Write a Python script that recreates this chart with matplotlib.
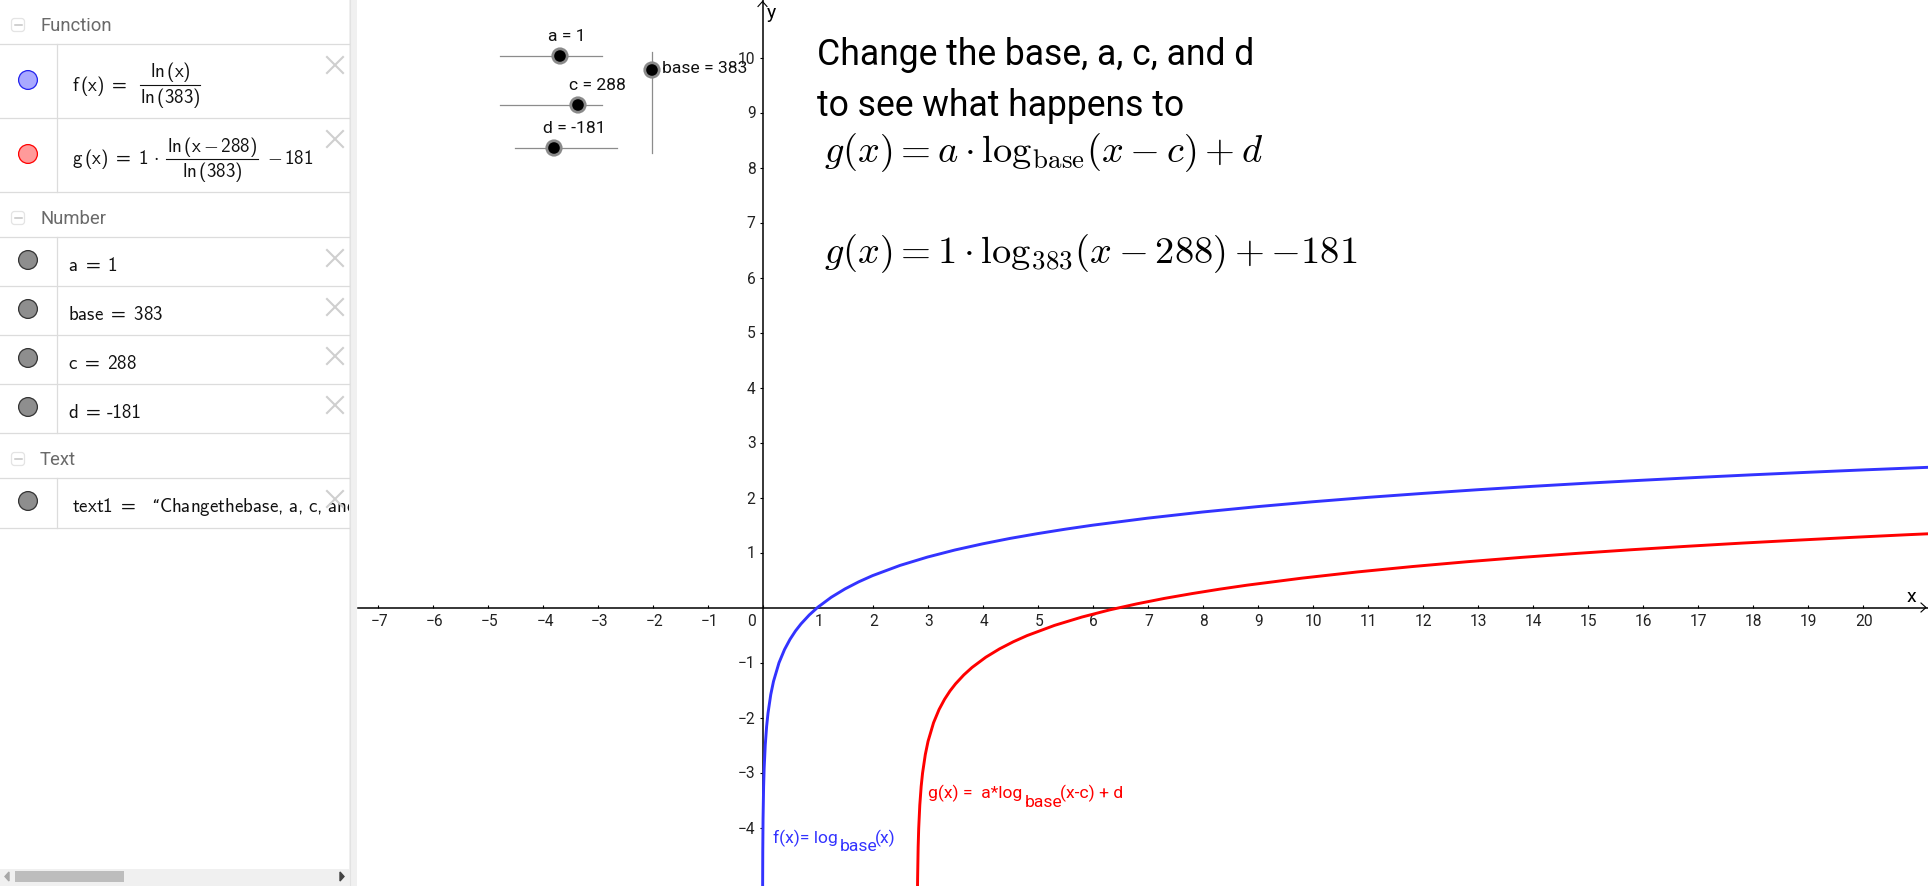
import matplotlib
matplotlib.use("Agg")
import matplotlib.pyplot as plt
from matplotlib.patches import Circle, Rectangle, FancyBboxPatch
from matplotlib.transforms import ScaledTranslation

plt.rcParams["mathtext.rm"] = "cmss10"
plt.rcParams["mathtext.sf"] = "cmss10"
plt.rcParams["mathtext.it"] = "cmss10"
plt.rcParams["mathtext.fallback"] = "cm"

# ---- data ----
f_x = [0.002, 0.005, 0.01, 0.02, 0.03, 0.05, 0.075, 0.1, 0.15, 0.2, 0.3, 0.4, 0.5, 0.6, 0.7, 0.85, 1,
       1.25, 1.5, 1.75, 2, 2.5, 3, 3.5, 4, 4.5, 5, 5.5, 6, 7, 8, 9, 10, 11, 12, 13, 14, 15, 16, 17, 18, 19, 20, 21.3]
f_y = [-5.188, -4.423, -3.844, -3.265, -2.927, -2.501, -2.162, -1.922, -1.584, -1.343, -1.005, -0.765, -0.579, -0.426,
       -0.298, -0.136, 0, 0.186, 0.338, 0.467, 0.579, 0.765, 0.917, 1.046, 1.157, 1.256, 1.343, 1.423, 1.496, 1.624,
       1.736, 1.834, 1.922, 2.002, 2.074, 2.141, 2.203, 2.261, 2.314, 2.365, 2.413, 2.458, 2.501, 2.553]
g_x = [2.818, 2.82, 2.83, 2.84, 2.86, 2.885, 2.91, 2.96, 3.01, 3.11, 3.21, 3.31, 3.41, 3.51, 3.66, 3.81,
       4.06, 4.31, 4.56, 4.81, 5.31, 5.81, 6.31, 6.81, 7.31, 7.81, 8.31, 8.81, 9.81, 10.81, 11.81, 12.81, 13.81,
       14.81, 15.81, 16.81, 17.81, 18.81, 19.81, 20.81, 21.3]
g_y = [-5.12, -4.934, -4.355, -4.017, -3.591, -3.252, -3.012, -2.674, -2.433, -2.095, -1.855, -1.669, -1.516, -1.388,
       -1.226, -1.09, -0.904, -0.752, -0.623, -0.511, -0.325, -0.173, -0.044, 0.067, 0.166, 0.253, 0.333, 0.406,
       0.534, 0.646, 0.744, 0.832, 0.912, 0.984, 1.051, 1.113, 1.171, 1.224, 1.275, 1.323, 1.345]
x_ticks = [-7, -6, -5, -4, -3, -2, -1, 0, 1, 2, 3, 4, 5, 6, 7, 8, 9, 10, 11, 12, 13, 14, 15, 16, 17, 18, 19, 20]
y_ticks = [-4, -3, -2, -1, 1, 2, 3, 4, 5, 6, 7, 8, 9, 10]
title_lines = ["Change the base, a, c, and d", "to see what happens to"]
formula_general = r"$g(x)=a\cdot\mathrm{log}_{\mathrm{base}}(x-c)+d$"
formula_values = r"$g(x)=1\cdot\mathrm{log}_{383}(x-288)+{-}181$"
section_names = ["Function", "Number", "Text"]
slider_labels = ["a = 1", "c = 288", "d = -181", "base = 383"]
number_rows = [r"a\ =\ 1", r"base\ =\ 383", r"c\ =\ 288", r"d\ =\ \!\text{-}181"]

# ---- layout (pixels) ----
W, H = 1928, 886
PANEL_W = 349
PLOT_L = 358
X0, Y0, UNIT = 762.5, 607.5, 55.0

BLUE = "#3333ff"
RED = "#ff0000"
LINE = "#dcdcdc"
TICK = "#222222"
LABEL_SIZE = 12.6
TICK_SIZE = 11.2

fig = plt.figure(figsize=(W / 100, H / 100), dpi=100, facecolor="white")

# ---- graph ----
ax = fig.add_axes([PLOT_L / W, 0, (W - PLOT_L) / W, 1])
ax.set_xlim((PLOT_L - X0) / UNIT, (W - X0) / UNIT)
ax.set_ylim((Y0 - H) / UNIT, Y0 / UNIT)
ax.patch.set_alpha(0)
for s in ("top", "right"):
    ax.spines[s].set_visible(False)
for s in ("left", "bottom"):
    ax.spines[s].set_position(("data", 0))
    ax.spines[s].set_linewidth(1.1)
    ax.spines[s].set_color("black")

ax.plot(f_x, f_y, color=BLUE, lw=2.1, solid_joinstyle="round", zorder=3)
ax.plot(g_x, g_y, color=RED, lw=2.1, solid_joinstyle="round", zorder=3)

ax.set_xticks(x_ticks)
ax.set_xticklabels(["" if v == 0 else str(v).replace("-", "\u2212") for v in x_ticks],
                   fontfamily="Roboto", fontsize=TICK_SIZE, color=TICK)
ax.set_yticks(y_ticks)
ax.set_yticklabels([str(v).replace("-", "\u2212") for v in y_ticks],
                   fontfamily="Roboto", fontsize=TICK_SIZE, color=TICK)
ax.tick_params(axis="x", direction="in", length=2, width=0.8, pad=4.5)
ax.tick_params(axis="y", direction="out", length=2, width=0.8, pad=3)
for v, lab in zip(x_ticks, ax.get_xticklabels()):
    dx = 2.5 if v < 0 else 1.2
    lab.set_transform(lab.get_transform() + ScaledTranslation(dx / 100, 0, fig.dpi_scale_trans))

# ---- pixel overlay ----
ui = fig.add_axes([0, 0, 1, 1], zorder=5)
ui.set_xlim(0, W)
ui.set_ylim(H, 0)
ui.axis("off")
ui.patch.set_alpha(0)


def ptext(x, y, s, size=12.5, color="black", family="Roboto", ha="left", **kw):
    return ui.text(x, y, s, fontsize=size, color=color, fontfamily=family, ha=ha, va="baseline", **kw)


def mtext(x, y, s, size=13.7, ha="left", **kw):
    return ui.text(x, y, "$\\mathsf{" + s + "}$", fontsize=size, color="#111111", math_fontfamily="custom",
                   ha=ha, va="baseline", **kw)


# axis arrows + axis names
ui.plot([1921, 1926, 1921], [Y0 - 4.5, Y0, Y0 + 4.5], color="black", lw=0.8)
ui.plot([X0 - 4.5, X0, X0 + 4.5], [6.5, 1.5, 6.5], color="black", lw=0.8)
ptext(1907, 602.5, "x", size=14)
ptext(767, 18, "y", size=14)
ptext(752, 625.5, "0", size=TICK_SIZE, color=TICK, ha="center")

# graph annotations
ptext(773, 843, "f(x)= log", size=LABEL_SIZE, color=BLUE)
ptext(839.5, 851, "base", size=LABEL_SIZE, color=BLUE)
ptext(874.5, 843, "(x)", size=LABEL_SIZE, color=BLUE)
ptext(928, 798, "g(x) =  a*log", size=LABEL_SIZE, color=RED)
ptext(1025, 807, "base", size=LABEL_SIZE, color=RED)
ptext(1059.5, 798, "(x-c) + d", size=LABEL_SIZE, color=RED)

# heading + formulas
ptext(817, 65, title_lines[0], size=25.6)
ptext(817, 116, title_lines[1], size=25.6)
ui.text(824, 162, formula_general, fontsize=27.7, math_fontfamily="cm", va="baseline", ha="left", color="black")
ui.text(824, 263, formula_values, fontsize=27.7, math_fontfamily="cm", va="baseline", ha="left", color="black")

# sliders
for (x1, x2, y, kx, lx, ly, lab) in [
    (500, 602, 56, 560, 567, 41, slider_labels[0]),
    (500, 602, 105, 578, 597, 90, slider_labels[1]),
    (515, 617, 148, 554, 574, 133, slider_labels[2]),
]:
    ui.plot([x1, x2], [y, y], color="#8c8c8c", lw=0.9, zorder=2)
    ui.add_patch(Circle((kx, y), 8.6, fc="#8a8a8a", ec="none", zorder=3))
    ui.add_patch(Circle((kx, y), 5.8, fc="black", ec="none", zorder=4))
    ptext(lx, ly, lab, size=LABEL_SIZE, ha="center", color="#111111")
ui.plot([652, 652], [52, 153], color="#8c8c8c", lw=0.9, zorder=2)
ui.add_patch(Circle((652, 70), 8.6, fc="#8a8a8a", ec="none", zorder=3))
ui.add_patch(Circle((652, 70), 5.8, fc="black", ec="none", zorder=4))
ptext(662, 73, slider_labels[3], size=LABEL_SIZE, color="#111111")

# ---- algebra panel ----
ui.add_patch(Rectangle((PANEL_W, 0), 7.5, H, fc="#f0f0f0", ec="none", zorder=1))
ui.plot([PANEL_W + .5] * 2, [0, H], color="#e2e2e2", lw=0.8, zorder=1)
for y in (44, 118, 192, 237, 286, 335, 384, 433, 478, 528):
    ui.plot([0, PANEL_W], [y, y], color=LINE, lw=0.9, zorder=1)
for y1, y2 in ((44, 192), (237, 433), (478, 528)):
    ui.plot([57, 57], [y1, y2], color=LINE, lw=0.9, zorder=1)

# section headers
for name, base in zip(section_names, (31, 224, 465)):
    ptext(40, base, name, size=13.3, color="#6a6a6a")
    by = base - 6
    ui.add_patch(FancyBboxPatch((11.5, by - 6.5), 13, 13, boxstyle="round,pad=0,rounding_size=3",
                                fc="white", ec="#e4e4e4", lw=0.9))
    ui.plot([14.5, 21.5], [by, by], color="#c4c4c4", lw=1.1)

# marble circles
for y, fc, ec in [(80, "#a9a9ff", "#2222ee"), (154, "#ff9a9a", "#ff0000"), (260, "#8e8e8e", "#333333"),
                  (309, "#8e8e8e", "#333333"), (358, "#8e8e8e", "#333333"), (407, "#8e8e8e", "#333333"),
                  (501, "#8e8e8e", "#333333")]:
    ui.add_patch(Circle((28, y), 9.4, fc=fc, ec=ec, lw=0.9, zorder=3))

# rows
mtext(72, 91, r"f\,(x)\ =")
mtext(170, 77, r"ln\,(x)", ha="center")
ui.plot([140, 200], [85, 85], color="#111111", lw=0.8)
mtext(170, 103, r"ln\,(383)", ha="center")

mtext(72, 164, r"g\,(x)\ =\ 1\,\cdot")
mtext(212, 152, r"ln\,(x-288)", ha="center")
ui.plot([166, 258], [159, 159], color="#111111", lw=0.8)
mtext(212, 177, r"ln\,(383)", ha="center")
mtext(267, 164, r"-\,181")

for base, s in zip((271, 320, 369, 418), number_rows):
    if r"\text" in s:
        mtext(68, base, r"d\ =")
        ptext(107, base, "-181", size=13.7, color="#111111", family="cmss10")
    else:
        mtext(68, base, s)

mtext(72, 512, r"text1\ =")
ptext(152, 512, "\u201c", size=12.6, color="#111111")
t = mtext(159, 512, r"Changethebase,\,a,\,c,\,and")
t.set_clip_path(Rectangle((0, 0), PANEL_W, H, transform=ui.transData))
t.set_clip_on(True)

# delete crosses
for y in (65, 139, 258, 307, 356, 405, 499):
    ui.plot([327, 343], [y - 8, y + 8], color="#cfcfcf", lw=1.5, zorder=6)
    ui.plot([327, 343], [y + 8, y - 8], color="#cfcfcf", lw=1.5, zorder=6)

# horizontal scrollbar
ui.add_patch(Rectangle((0, 869), PANEL_W, H - 869, fc="#f0f0f0", ec="none", zorder=2))
ui.add_patch(Rectangle((15, 871), 109, 11, fc="#bdbdbd", ec="none", zorder=3))
ui.fill([9, 5, 9], [872, 876.5, 881], color="#a8a8a8", zorder=3)
ui.fill([340, 344, 340], [872, 876.5, 881], color="#444444", zorder=3)

fig.savefig("out.png", dpi=100, facecolor="white")
